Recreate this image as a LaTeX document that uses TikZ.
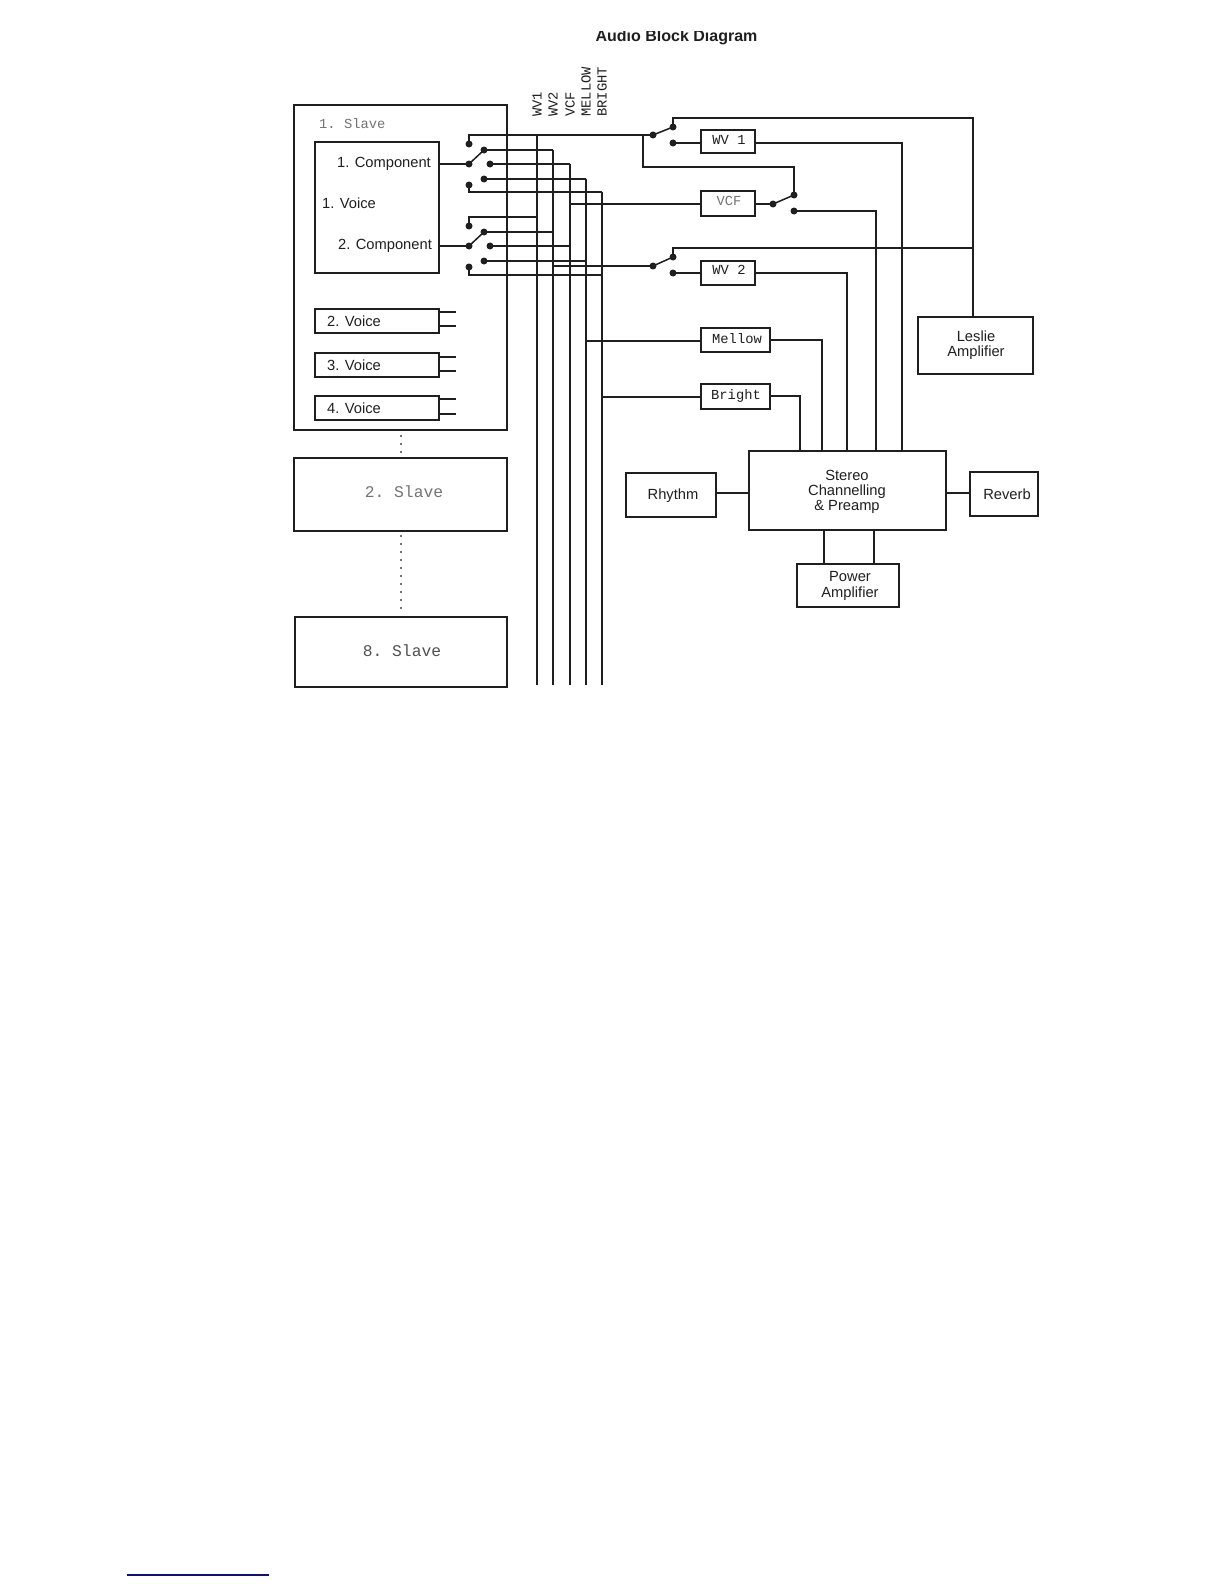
\documentclass[tikz,border=0pt]{standalone}
\usepackage{fontspec}
\setmainfont{Liberation Sans}
\setmonofont{Liberation Mono}
\definecolor{inkblack}{gray}{0.12}
\definecolor{fadegray}{gray}{0.45}
\definecolor{rulenavy}{rgb}{0.05,0.05,0.55}
\tikzset{
  blk/.style={draw=inkblack, line width=1.7pt, inner sep=0pt, outer sep=0pt, anchor=north west},
  wire/.style={draw=inkblack, line width=1.5pt},
  pin/.style={circle, fill=inkblack, inner sep=0pt, minimum size=7pt},
  lbl/.style={inner sep=0pt, text=inkblack, font=\fontsize{14.7}{15.2}\selectfont, align=center},
  mono/.style={inner sep=0pt, text=inkblack, font=\ttfamily\fontsize{13.8}{15}\selectfont},
  buslbl/.style={mono, rotate=90, anchor=west},
  dots/.style={draw=fadegray, line width=1.5pt, dash pattern=on 1.5pt off 6.5pt}
}
% box of given size, px used as pt
\newcommand{\blkbox}[6][]{\node[blk, minimum width=#5pt, minimum height=#6pt, #1] (#2) at (#3,#4) {};}
\begin{document}
\begin{tikzpicture}[x=1pt, y=-1pt]
\useasboundingbox (0,0) rectangle (1224,1584);
% title is cut off at its top
\begin{scope}
  \clip (500,32) rectangle (850,60);
  \node[inner sep=0pt, anchor=base, font=\bfseries\fontsize{16}{18}\selectfont, text=inkblack] (title) at (676.5,42) {Audio Block Diagram};
\end{scope}

% slaves
\blkbox{slave1}{294}{105}{213}{325}
\blkbox{slave2}{294}{458}{213}{73}
\blkbox{slave8}{295}{617}{212}{70}
\node[mono, text=fadegray, anchor=west] (slave1t) at (319,124) {1. Slave};
\node[mono, text=fadegray, font=\ttfamily\fontsize{16.3}{18}\selectfont] (slave2t) at (404,492) {2. Slave};
\node[mono, font=\ttfamily\fontsize{16.3}{18}\selectfont, text=fadegray!70!black] (slave8t) at (402,651) {8. Slave};
\coordinate (dota) at (401,435);
\coordinate (dotb) at (401,458);
\coordinate (dotc) at (401,535);
\coordinate (dotd) at (401,612);
\draw[dots] (dota) -- (dotb);
\draw[dots] (dotc) -- (dotd);

% voices
\blkbox{voice1}{315}{142}{124}{131}
\node[lbl] (comp1) at (384,164) {1. Component};
\node[lbl] (voice1t) at (349,203.5) {1. Voice};
\node[lbl] (comp2) at (385,246) {2. Component};
\foreach \n/\ya/\yb/\yc/\yd/\yt in {2/309/312/326/333/321, 3/353/357/371/377/365, 4/396/399/414/420/408} {
  \pgfmathsetmacro{\hh}{\yd-\ya}
  \blkbox{voice\n}{315}{\ya}{124}{\hh}
  \node[lbl] (voice\n t) at (354,\yt) {\n. Voice};
  \coordinate (stub\n a) at (456,\yb);
  \coordinate (stub\n b) at (456,\yc);
  \draw[wire] (voice\n.east |- stub\n a) -- (stub\n a);
  \draw[wire] (voice\n.east |- stub\n b) -- (stub\n b);
}

% bus lines
\foreach \nm/\x/\ytop/\txt in {wva/537/135/WV1, wvb/553/150/WV2, vcf/570/164/VCF, mel/586/179/MELLOW, bri/602/192/BRIGHT} {
  \coordinate (\nm top) at (\x,\ytop);
  \coordinate (\nm bot) at (\x,685);
  \draw[wire] (\nm top) -- (\nm bot);
  \node[buslbl] (\nm lbl) at (\x,117) {\txt};
}

% component switches
\foreach \s/\yo in {a/0, b/82} {
  \node[pin] (p\s) at (469,164+\yo) {};
  \node[pin] (c\s 1) at (469,144+\yo) {};
  \node[pin] (c\s 2) at (484,150+\yo) {};
  \node[pin] (c\s 3) at (490,164+\yo) {};
  \node[pin] (c\s 4) at (484,179+\yo) {};
  \node[pin] (c\s 5) at (469,185+\yo) {};
  \draw[wire] (p\s.center) -- (c\s 2.center);
  \draw[wire] (c\s 2.center) -- (c\s 2 -| wvbtop);
  \draw[wire] (c\s 3.center) -- (c\s 3 -| vcftop);
  \draw[wire] (c\s 4.center) -- (c\s 4 -| meltop);
}
\draw[wire] (voice1.east |- pa) -- (pa.center);
\draw[wire] (voice1.east |- pb) -- (pb.center);
\draw[wire] (ca1.center) -- (469,135) -- (653,135);
\draw[wire] (cb1.center) -- (469,217) -- (537,217);
\draw[wire] (ca5.center) -- (469,192) -- (602,192);
\draw[wire] (cb5.center) -- (469,275) -- (602,275);

% output blocks
\blkbox{wv1}{701}{130}{54}{23}
\blkbox{vcfb}{701}{191}{54}{25}
\blkbox{wv2}{701}{261}{54}{24}
\blkbox{mellow}{701}{328}{69}{24}
\blkbox{bright}{701}{384}{69}{25}
\node[mono] (wv1t) at (729,140) {WV 1};
\node[mono, text=fadegray] (vcft) at (729,201) {VCF};
\node[mono] (wv2t) at (729,270) {WV 2};
\node[mono] (mellowt) at (737,339) {Mellow};
\node[mono] (brightt) at (736,396) {Bright};
\blkbox{leslie}{918}{317}{115}{57}
\node[lbl] (lesliet) at (976,345.5) {Leslie\\Amplifier};
\blkbox{stereo}{749}{451}{197}{79}
\node[lbl] (stereot) at (847,492) {Stereo\\Channelling\\\& Preamp};
\blkbox{rhythm}{626}{473}{90}{44}
\node[lbl] (rhythmt) at (673,496) {Rhythm};
\blkbox{reverb}{970}{472}{68}{44}
\node[lbl] (reverbt) at (1007,494.5) {Reverb};
\blkbox{power}{797}{564}{102}{43}
\node[lbl] (powert) at (850,586) {Power\\Amplifier};

% output switches
\node[pin] (sa) at (653,135) {};
\node[pin] (sa1) at (673,127) {};
\node[pin] (sa2) at (673,143) {};
\node[pin] (sv) at (773,204) {};
\node[pin] (sv1) at (794,195) {};
\node[pin] (sv2) at (794,211) {};
\node[pin] (sb) at (653,266) {};
\node[pin] (sb1) at (673,257) {};
\node[pin] (sb2) at (673,273) {};
\foreach \p/\c in {sa/sa1, sv/sv1, sb/sb1} \draw[wire] (\p.center) -- (\c.center);

% wiring to the blocks
\draw[wire] (sa1.center) -- (673,118) -- (973,118) -- (973,317);
\draw[wire] (sb1.center) -- (673,248) -- (973,248);
\draw[wire] (sa2.center) -- (wv1.west |- sa2);
\draw[wire] (sb2.center) -- (wv2.west |- sb2);
\draw[wire] (643,135) -- (643,167) -- (794,167) -- (sv1.center);
\draw[wire] (570,204) -- (vcfb.west |- sv);
\draw[wire] (vcfb.east |- sv) -- (sv.center);
\draw[wire] (553,266) -- (sb.center);
\draw[wire] (586,341) -- (701,341);
\draw[wire] (602,397) -- (701,397);
\draw[wire] (wv1.east |- sa2) -- (902,143) -- (902,451);
\draw[wire] (sv2.center) -- (876,211) -- (876,451);
\draw[wire] (wv2.east |- sb2) -- (847,273) -- (847,451);
\draw[wire] (770,340) -- (822,340) -- (822,451);
\draw[wire] (770,396) -- (800,396) -- (800,451);
\draw[wire] (716,493) -- (749,493);
\draw[wire] (946,493) -- (970,493);
\draw[wire] (824,530) -- (824,564);
\draw[wire] (874,530) -- (874,564);

% footnote rule
\coordinate (rulea) at (127,1575);
\coordinate (ruleb) at (269,1575);
\draw[rulenavy, line width=1.3pt] (rulea) -- (ruleb);
\end{tikzpicture}
\end{document}
